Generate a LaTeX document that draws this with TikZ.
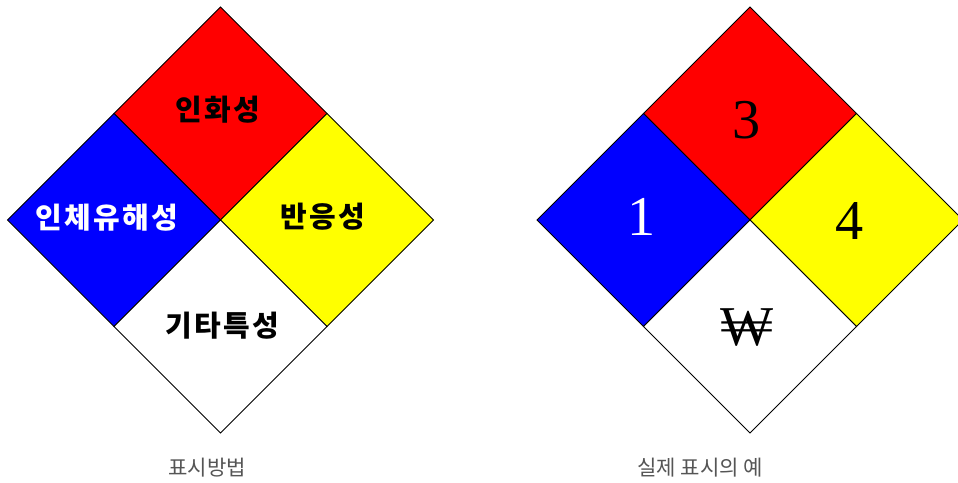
\documentclass[tikz,border=0pt]{standalone}
\usepackage{fontspec}
\newfontfamily\krfont{Noto Sans CJK KR}
\newfontfamily\krwide[LetterSpace=8]{Noto Sans CJK KR}
\newfontfamily\numfont{Liberation Serif}
\definecolor{nfred}{RGB}{255,0,0}
\definecolor{nfblue}{RGB}{0,0,255}
\definecolor{nfyellow}{RGB}{255,255,0}
\definecolor{capgray}{RGB}{85,85,85}
\usetikzlibrary{positioning}

\begin{document}
\begin{tikzpicture}[x=0.02cm,y=-0.02cm,
  quad/.style={draw=black,line width=0.5pt},
  lbl/.style={font=\krwide\bfseries\fontsize{16.5}{19}\selectfont},
  num/.style={font=\numfont\fontsize{32}{36}\selectfont},
  captext/.style={font=\krfont\fontsize{12}{14}\selectfont,text=capgray}]
  \useasboundingbox (0,0) rectangle (958,483);
  % Left diamond: meaning of each field
  \draw[quad,fill=nfred] (220.5,7) -- (327,113.5) -- (220.5,220) -- (114,113.5) -- cycle;
  \draw[quad,fill=nfblue] (114,113.5) -- (220.5,220) -- (114,326.5) -- (7.5,220) -- cycle;
  \draw[quad,fill=nfyellow] (327,113.5) -- (433.5,220) -- (327,326.5) -- (220.5,220) -- cycle;
  \draw[quad,fill=white] (220.5,220) -- (327,326.5) -- (220.5,433) -- (114,326.5) -- cycle;
  \node[lbl] (fire) at (218,110) {인화성};
  \node[lbl,text=white] (health) at (107,218) {인체유해성};
  \node[lbl] (react) at (323,217) {반응성};
  \node[lbl] (special) at (222,326) {기타특성};
  \node[captext] (capleft) at (207,468) {표시방법};
  % Right diamond: an actual example
  \draw[quad,fill=nfred] (750,7) -- (856.5,113.5) -- (750,220) -- (643.5,113.5) -- cycle;
  \draw[quad,fill=nfblue] (643.5,113.5) -- (750,220) -- (643.5,326.5) -- (537,220) -- cycle;
  \draw[quad,fill=nfyellow] (856.5,113.5) -- (963,220) -- (856.5,326.5) -- (750,220) -- cycle;
  \draw[quad,fill=white] (750,220) -- (856.5,326.5) -- (750,433) -- (643.5,326.5) -- cycle;
  \node[num] (firenum) at (747,120) {3};
  \node[num,text=white] (healthnum) at (642,217) {1};
  \node[num] (reactnum) at (850,221) {4};
  \node[num] (specialsym) at (747,328) {₩};
  \node[captext] (capright) at (700,468) {실제 표시의 예};
\end{tikzpicture}
\end{document}
